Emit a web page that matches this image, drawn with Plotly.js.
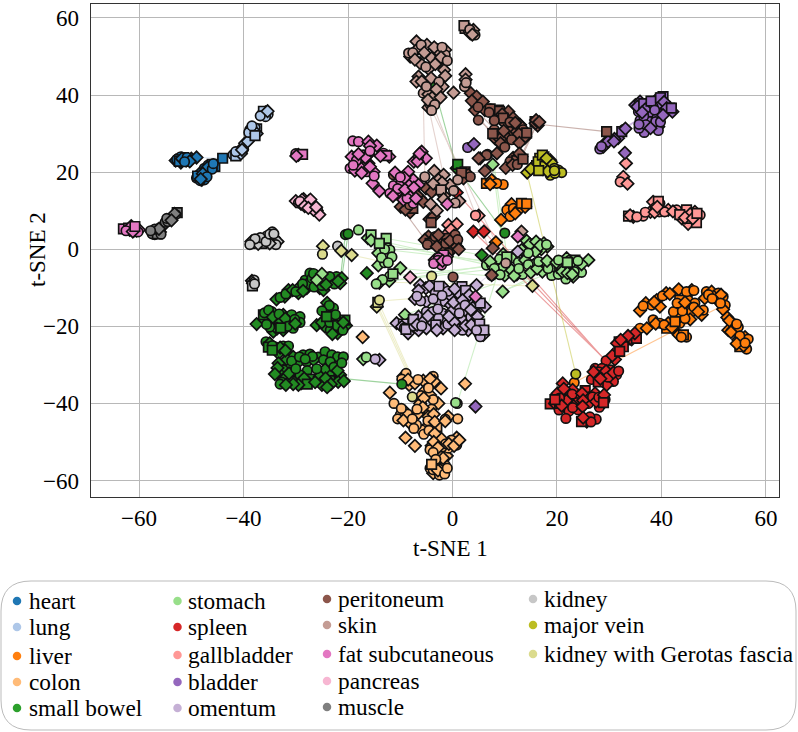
<!DOCTYPE html>
<html><head><meta charset="utf-8">
<script src="https://cdn.plot.ly/plotly-3.0.1.min.js"></script>
<style>html,body{margin:0;padding:0;background:#fff}#c{width:798px;height:732px}</style>
</head><body><div id="c"></div>
<script>
// [t-SNE 1, t-SNE 2, marker kind] ; kind: c circle, s square, none diamond
const heart=[[-53,23],[-52.5,23.5,'c'],[-52,22.5],[-51.5,23.8,'s'],[-51,23],[-50.5,23.2,'c'],[-50,23.5],[-49,23.8],[-52,24,'c'],[-51,22.8,'s'],[-47.5,21,'c'],[-46.8,21.8,'c'],[-46.5,21],[-45.5,21.5,'s'],[-47,20.5,'c'],[-46,22,'s'],[-49,18.5,'c'],[-48.5,19.5],[-48,18],[-47.5,19,'c'],[-48,18.8,'s'],[-47.5,18,'c'],[-48.3,17.8,'c'],[-44,23.6,'s'],[-52.8,23.3,'c'],[-52.3,22.8,'s'],[-51.8,23.5],[-50.8,23.8,'c'],[-50.3,22.8],[-51.3,22.7,'c'],[-46.9,21.2],[-46,20.8,'c'],[-45.8,22.2,'c'],[-48.8,19,'s'],[-47.8,19.6],[-47,18.8,'c'],[-48.2,18.2]];
const lung=[[-42,24.5,'c'],[-41,25,'c'],[-40.8,25.5],[-40,26,'c'],[-41.5,24.2,'s'],[-40.5,24.8],[-39.7,27.5],[-38.8,31,'c'],[-38,30.5],[-37.5,31.2,'s'],[-38.2,30],[-37.8,31.5,'c'],[-38.5,31],[-36.5,35,'c'],[-35.8,35.5],[-36,34.8,'c'],[-35.3,35,'c'],[-36.2,35.8,'s'],[-41.5,25.3,'c'],[-40.3,25.8],[-39.2,28],[-39,30.3,'c'],[-37.5,30],[-38.4,32,'c'],[-37.8,29.5,'s'],[-35.8,34.4,'c'],[-36.8,34.6,'c'],[-35.4,35.8]];
const liver=[[6.5,17.1,'s'],[7.8,17.5],[7.5,17.95],[9.7,16.8,'c'],[8.45,17.1,'c'],[7.2,16.9],[11.3,11.7],[10.4,10.2,'c'],[11.65,10.6,'c'],[12.9,10.6],[13.9,11],[11,8.5,'c'],[13.2,11.9,'s'],[12,9.3],[14.2,11.8,'s'],[9.3,7.6],[8.3,1.8],[23.3,-34.6,'c'],[35.9,-15.9],[37,-14],[38.1,-14.5,'c'],[39.1,-13.2],[39.7,-14.9],[40.9,-11.4],[43.3,-10.4],[45.8,-10.6],[35.9,-20.5,'c'],[37.2,-20.5],[38.4,-18.3,'c'],[39.7,-19.2,'c'],[41.3,-19.2],[41,-20.5,'s'],[43.5,-19.2,'c'],[43.5,-17.5],[42.3,-16.2,'c'],[44.2,-14.5],[45.1,-13.2,'c'],[43.5,-13.2,'s'],[46.4,-14,'c'],[45.8,-16.2,'c'],[45.5,-18.2],[47.7,-17],[48,-15.8,'c'],[43.3,-22.2],[44.8,-22.8,'c'],[44.2,-22.2,'s'],[48.6,-11,'c'],[49.6,-11],[48.3,-12.7],[50.9,-11.4,'c'],[51.8,-12.3,'c'],[50,-12.3],[52.2,-14.5,'c'],[51.8,-15.6],[50.7,-13.2],[52.6,-17.7],[53.7,-19.2,'c'],[52.8,-21],[53.7,-20.8],[54.7,-20.2,'c'],[56,-22.8],[54.7,-23.5],[56.6,-23.3,'c'],[56.3,-25.9,'c'],[55,-25.3,'s'],[55.3,-24],[36.5,-14.7,'c'],[38.6,-13.7],[40.2,-12.1,'c'],[41.6,-11.6],[44.8,-11,'c'],[46.2,-10.7,'c'],[38.9,-19.3],[40.5,-19.6,'c'],[42,-20.3],[42.6,-18.8,'s'],[44.5,-18,'c'],[44,-16,'c'],[43,-14,'c'],[46.2,-15,'c'],[44.5,-13.8],[47,-16.2],[43.8,-22.8,'c'],[49,-11.8,'c'],[51.4,-11.8],[49.7,-12.8,'c'],[51.3,-14,'c'],[53,-18.5],[54.4,-19.4,'c'],[53.3,-21.5],[55,-22.5,'c'],[55.7,-25],[54.4,-24.5],[56,-24.3,'c']];
const colon=[[-9.4,-33],[-8.9,-32.2,'c'],[-8.3,-35.2],[-7.2,-34.8],[-5.6,-34.1],[-3.7,-33,'c'],[-3.5,-34.3],[-2.2,-36.1],[2.4,-34.9],[-12,-37.2],[-11.2,-40,'c'],[-5.3,-36.7],[-4.3,-37.8],[-2.7,-40],[-6.2,-40],[-5.3,-42.1],[-4,-41.5,'c'],[-0.8,-43.4],[1,-44,'c'],[-1.4,-44.1,'c'],[-9.1,-42.1],[-10,-43,'c'],[-8.1,-45.2],[-9,-43.5,'s'],[-4.6,-45.6],[-5.9,-46.9,'c'],[-6.9,-45.6,'c'],[-4,-46.5,'c'],[-9,-48.9],[-7.2,-51],[-4,-51],[-2.1,-49.2],[0.8,-48.9],[-0.2,-49.5,'c'],[-2.7,-52.9],[-1.1,-53.6],[-0.8,-51.6,'c'],[-2,-51.3,'c'],[-4.3,-52,'c'],[0.8,-50.8,'c'],[-3.7,-58.1],[-1.8,-57.7,'c'],[-1.4,-56,'c'],[-2.7,-56.8],[-3.4,-56.4,'s'],[-4.3,-56.8,'c'],[-17.2,-22.8],[-6,-38,'c'],[-3,-46,'s'],[-6.5,-42.5],[-10.5,-44,'c'],[-5.5,-48,'c'],[-9.7,-33.7,'c'],[-8.5,-33.8],[-6.6,-33.8,'c'],[-4.3,-33.6],[-4.6,-36,'c'],[-3.7,-39,'c'],[-5.5,-38.6],[-5.7,-41],[-4.6,-43.4],[-3.6,-42.8],[-4.7,-44.5,'c'],[-6.8,-41.5,'c'],[-8.6,-42.8,'c'],[-9.4,-44.4],[-7.7,-44,'c'],[-9.8,-41.3,'c'],[-7.4,-46.5,'c'],[-3.4,-44.8],[-4.5,-47,'c'],[-3.4,-47.8],[-1.4,-44.6],[-3.6,-50],[-1.3,-50.5,'c'],[-2.8,-51.5],[-0.7,-50.5],[0.3,-51],[1.3,-49.5],[-3.7,-52.7,'c'],[-1.8,-54.2],[-3.2,-54.5,'c'],[-3.7,-57.2,'c'],[-2.5,-58.6,'c'],[-2.8,-57.4],[-1.5,-58.3,'c'],[-4,-55.8,'s'],[-1,-56.8,'c']];
const smallBowel=[[-33.7,-13],[-32.1,-12.3],[-31.4,-10.6],[-29.5,-11.4],[-29.2,-9.7],[-27.9,-10.1],[-28.2,-8,'c'],[-27.3,-6.2,'c'],[-27.6,-8.8],[-25.4,-10.1],[-24.7,-10.6],[-23.1,-8],[-22.2,-7.1,'c'],[-21.2,-7.5],[-23.5,-7.1,'c'],[-21.5,-8.8],[-37.5,-19.4],[-35.6,-17,'c'],[-34.6,-16.2,'c'],[-35.9,-18.4],[-34,-19.6],[-32.4,-17],[-33,-19],[-30.8,-17,'c'],[-29.2,-17.5,'c'],[-29.2,-19,'c'],[-30.5,-20.5,'c'],[-32.4,-21],[-34.3,-21.4],[-31.4,-18.8],[-35,-18.4,'c'],[-36.2,-17,'s'],[-24,-13.9],[-24.2,-15.6],[-22.8,-15.3,'c'],[-24.4,-18.2],[-26,-19.7],[-24.4,-20.1],[-22.8,-18.4],[-21.9,-18.8,'c'],[-20.4,-19.8],[-20.6,-18.4,'s'],[-22,-21.8],[-23.4,-21,'c'],[-21.5,-20.5],[-35.7,-24,'c'],[-35,-24.4],[-34,-25.3,'c'],[-32.4,-25.1,'c'],[-31.4,-25.1,'c'],[-35.25,-25.4,'s'],[-33.3,-27],[-28.6,-27.4,'c'],[-27.3,-27.2,'c'],[-25.7,-28,'c'],[-24.4,-26.6,'c'],[-23.1,-27.4,'c'],[-22,-27.9,'c'],[-20.9,-27.9,'c'],[-30.5,-27.9],[-31.7,-28.7],[-33.3,-29.6],[-29.5,-29.2,'c'],[-27.9,-29.2,'c'],[-26.6,-28.7],[-24.7,-28.7,'c'],[-23.4,-29.2,'c'],[-30.9,-30.5],[-32.4,-31.3,'c'],[-33,-32.6,'c'],[-27.8,-31.5,'c'],[-24.4,-31.2],[-29.2,-32.6,'c'],[-32.1,-33.5],[-30.8,-33.9],[-29,-34.8],[-27.3,-33.7,'s'],[-25.4,-33],[-25,-35.2],[-23.1,-32.6,'c'],[-21.5,-32.6],[-23.5,-34.1,'s'],[-21.9,-34.4],[-31,-32,'c'],[-32.7,-34.5,'c'],[-16.4,-6.2],[-20.5,3.8,'c'],[-20,4,'c'],[0.8,21],[1,22,'s'],[5.6,-1.5],[10,4.2,'c'],[-9.7,-35,'c'],[-3.7,43],[0.2,-18],[-33,-12.5,'c'],[-31.9,-11.6,'c'],[-30.6,-10.6],[-30,-11,'c'],[-28.7,-9,'c'],[-28.6,-10.8],[-26.9,-7.5,'c'],[-26.5,-9.8,'c'],[-25,-9.4,'c'],[-22.6,-9,'c'],[-21.9,-8.3],[-26.6,-6.3,'c'],[-24.2,-9.2],[-36,-16.5,'c'],[-35.2,-15.8,'c'],[-34.4,-17.6],[-33.2,-16.8,'c'],[-32,-18],[-30.2,-18.2,'c'],[-31.6,-20,'c'],[-33.6,-20.6],[-35,-20.2,'c'],[-30.1,-19.3],[-32.9,-20.4,'s'],[-35.6,-19.5,'c'],[-23.6,-14.6,'c'],[-25,-16,'c'],[-23,-17,'c'],[-25,-19],[-23.5,-19,'c'],[-22,-19.8,'s'],[-21,-21,'c'],[-23,-22],[-22.4,-17,'c'],[-24.1,-17.5,'s'],[-20.9,-19],[-34.5,-25,'c'],[-33,-25.5],[-34.5,-26.2,'s'],[-32,-26.3],[-30.8,-29,'c'],[-33.5,-30.8],[-31.3,-32.2],[-34,-32.4],[-33,-35,'c'],[-30,-31,'c'],[-28.4,-33.5],[-27.8,-35,'s'],[-29.5,-35.2],[-26.8,-27.8,'c'],[-26,-31,'c'],[-26.3,-34.5],[-24.3,-33.5],[-22.7,-30.6,'c'],[-22,-31.5],[-23.3,-35],[-20.8,-34.2],[-21.2,-29.5,'c'],[-29.3,-27.9,'c'],[-28.2,-28.5,'c'],[-24,-35.8],[-30.5,-35],[-31.9,-35.2]];
const stomach=[[-18,5,'c'],[-16.2,2.9],[-15.6,3.7,'s'],[-12.9,1.1],[-12.7,2.8,'s'],[-14.2,-1],[-12,-0.2,'c'],[-11.6,-2,'c'],[-14.2,-4.2],[-13,-3.5,'c'],[-10,-4.9],[-14,-8.7],[-12.1,-8.2],[-12,-7,'c'],[-9.1,-17],[-17.1,-28.5],[-16.5,-28,'c'],[0.9,-40,'c'],[0.6,-39.8,'c'],[-25,-6.4],[-26,-8],[7.7,22],[14.2,2.2],[15.2,0.7],[16.4,0.25],[17.5,1.55],[18.15,0.7],[17,0],[13.9,-0.6],[9.7,-1.3],[11.3,-2.3,'c'],[8.8,-3.2],[6.5,-4.1,'c'],[7.5,-4.1,'c'],[12.6,-3.4,'c'],[13.9,-2.8],[15.5,-4.1],[8.8,-5.8,'c'],[10,-6.8],[11.3,-5.4],[12.3,-6.5],[13.4,-6.5,'c'],[17.7,-3.9],[17.2,-5.8],[19.3,-5.4],[19,-6.8,'c'],[20.25,-6.5,'c'],[21.85,-2.3],[21.2,-4.1,'c'],[22.5,-2.8,'c'],[22.4,-4.9,'c'],[21.7,-7.7,'c'],[23.1,-7.1],[23.8,-4.5],[24.7,-6,'c'],[26,-2.8],[23.45,-2.8,'s'],[24.7,-3.9],[20.9,-4.9,'s'],[18.7,-4.5,'s'],[9.6,-11],[13.2,-0.2],[-15.6,2.3],[-13,0,'c'],[-14,1.5,'s'],[-13.6,-2.2,'c'],[-12.3,-3.5,'c'],[-13.4,-7.9,'c'],[-11.4,-6.4,'s'],[-14.6,-9,'c'],[14.8,1.3],[16,2],[15.9,-0.6],[16.8,1],[18,1.2,'c'],[14.5,-1,'c'],[9,-2.6,'c'],[10.4,-2,'s'],[7.2,-3.2],[9.6,-4.6],[8,-5,'c'],[9.1,-6.6,'c'],[11.8,-6.9],[12.7,-5,'c'],[14.5,-4,'c'],[15,-6],[16.2,-5],[16.5,-3.2,'c'],[18.3,-5,'c'],[18.1,-3],[19.9,-3.4],[20.3,-2.8,'c'],[21,-5.8],[22,-6.2],[22.7,-3.6],[23.3,-5.8,'c'],[24,-3,'c'],[22,-3.4,'s'],[22.9,-6.5]];
const spleen=[[31.9,-24,'s'],[33.3,-23.5,'s'],[34.3,-23.4],[35.2,-23.1,'s'],[32.7,-25.3,'s'],[31.4,-26.6,'c'],[31.1,-28.6],[29.4,-28.9,'c'],[31.5,-24.4],[34.9,-21.8],[27.3,-30.9,'c'],[28.6,-30.9,'c'],[30.3,-31.3,'c'],[27.3,-32.9],[26.6,-33.8,'c'],[28.9,-32.9],[31.4,-32.6,'c'],[30.8,-34.3,'c'],[29.5,-35.2],[27.9,-34.4,'s'],[21.1,-34.8],[20.1,-37.4],[18.7,-40.1,'s'],[19.6,-40],[20.4,-41.7,'c'],[23,-36.5],[22.2,-38.2],[21.2,-38.7],[25.4,-36.7,'s'],[27.3,-37.4],[24.1,-38.2,'c'],[26,-38.7],[22.2,-40],[23.8,-39.8,'c'],[26,-40,'c'],[29.2,-39,'c'],[28.5,-40.4],[28.1,-41,'c'],[20.5,-40,'s'],[22.3,-42,'c'],[24.1,-41.7,'c'],[21.7,-43.9,'c'],[25.4,-44.3,'c'],[25.7,-44.7],[27.5,-44.1,'c'],[26.3,-43.5,'c'],[24.7,-44.7,'s'],[0.8,14.7],[4,4.6],[6,4.6],[21.3,-36.2],[22.9,-37.6,'c'],[21.8,-39.3],[20.5,-38.6,'c'],[24.8,-37.4],[23.2,-40.7],[25,-39.2],[26.8,-38.3,'c'],[20.9,-40.6],[19.6,-39,'s'],[23,-41.1,'c'],[24.9,-40.8],[27.5,-39.5],[28,-38.4,'c'],[29,-37.8],[28.9,-39.8,'s'],[26.5,-44.8,'c'],[25,-43.7],[28,-31.8,'c'],[29.4,-31.6],[29.8,-33.2,'c'],[28.3,-33.6],[27,-31.8],[30.8,-32],[31.8,-31.6,'c'],[33.6,-22.5],[32.2,-23.5],[30.6,-27.6],[32,-26.5,'s']];
const gallbladder=[[5,8.7],[4.4,8.8,'c'],[-0.8,6.3],[0.8,6.5],[-1.1,3.9],[33.2,22.3],[32.7,18.8],[32.1,17.5,'c'],[33.5,17],[34.6,8.4],[33.7,8.6,'s'],[36.5,8.6,'c'],[37.9,9.7],[38.4,12.3],[39.7,11.9,'c'],[39.6,9.7,'c'],[41.3,10.2],[42.9,10.2,'c'],[43.9,8],[44.8,10.2,'s'],[46.4,9.7],[47.4,8.9,'c'],[45.1,6.6],[46.7,6.9,'s'],[45.1,8,'s'],[39.4,12.4,'s'],[34,8.8],[35.3,8.4,'c'],[36.9,9.6,'c'],[38.8,10.8,'c'],[38.7,9.6],[40.6,9.7,'c'],[42.2,9.8],[43.5,9,'s'],[45.5,9.1],[44.5,8.2],[46,8],[46.8,9.3,'s'],[39.2,11],[-0.3,5.1],[0.3,3.5]];
const bladder=[[2.9,26.4,'c'],[4.1,27.3],[33,25],[35,37.4],[35.9,38.3],[37.5,37.4],[39.1,38.9],[40.3,39.6,'s'],[41.6,36.6,'s'],[42.1,35.7],[35.6,35.7,'c'],[37.8,34.4],[35.9,33.4,'c'],[39.4,35.3,'c'],[40.3,36.2,'s'],[39.4,31.8],[39.4,30.8,'c'],[36.7,30.3,'c'],[35.7,31.4,'c'],[39.1,34,'c'],[41,37.4,'c'],[39.7,37.9],[36.2,36.6,'s'],[38.4,37,'c'],[37.2,33.1,'s'],[32.8,31.1,'c'],[31.7,28.8],[30.5,28.2,'c'],[29.2,27.5],[28.2,26,'c'],[28.9,26.6],[32.4,30.5,'s'],[4.4,-40.8],[35.4,37],[36.6,37.8,'s'],[36.9,36.3],[38,38.4,'s'],[38.7,36.1,'c'],[39.8,39.3,'s'],[40.5,38.2],[41,36.6],[41.9,36.6,'s'],[36.6,34.5,'c'],[36.3,35.5],[38.9,33.1,'c'],[37,32.3,'c'],[37.9,31.4],[39.8,33,'c'],[40.3,34.8],[35.7,32.4,'c'],[31,28.6],[29.8,28],[28.5,26.7,'c'],[33.1,31.3],[30.9,28]];
const omentum=[[-7.2,-12.9],[-6.2,-9.3],[-5.1,-10.1],[-3.3,-11.3,'c'],[-1.6,-10.1],[1.8,-9.7,'s'],[4.6,-9.3],[-5,-13.6],[-2.8,-13.3,'c'],[-1.4,-13.6,'c'],[-0.2,-12.3],[1.1,-11.4],[3,-13.6],[4.4,-14.5],[6.2,-14.9],[-0.3,-14.5],[1.1,-14.9],[-10.7,-19.2],[-8.1,-19.6],[-8.5,-21.8],[-6.5,-21],[-6.5,-17.5],[-5.6,-18.8],[-5,-16.2,'c'],[-3.8,-16.2,'c'],[-4,-18.3,'s'],[-5,-20.5],[-1.9,-16.6,'c'],[-1.6,-18.8],[-1.8,-20.5],[-0.2,-16.2],[2.1,-18.3],[0.8,-20.5,'c'],[3,-21],[2.4,-15.8],[4.3,-16.2],[4.2,-20.1],[5.9,-22.2],[5,-21.8,'c'],[5.3,-22.7,'c'],[4,-18.3],[-2.7,-17.9,'c'],[-9.4,-19.4,'s'],[1.9,-21,'c'],[-14,-28.7],[-14.8,-28.5,'c'],[12.5,-0.6],[-6.5,-10.7],[-4.4,-9.5],[-2.6,-9.6,'s'],[-0.9,-10.9,'c'],[0.4,-10.3],[2.5,-10.7,'s'],[3.2,-11.9],[-6.1,-13.4,'c'],[-3.7,-12.9,'c'],[-2,-12,'c'],[0.2,-13.8],[1.9,-13.2],[2.4,-14.5,'c'],[3.9,-15.2],[5.3,-14,'s'],[-9.7,-20.1],[-9.2,-20.4,'c'],[-8.9,-20.8,'s'],[-7.4,-19.9,'c'],[-7.5,-18.2,'s'],[-6.8,-19.6],[-5.9,-19.9,'c'],[-4.7,-17.3],[-3.2,-19.6,'s'],[-3,-21],[-2.8,-15.5,'c'],[-0.9,-19.5,'c'],[0.3,-18.9],[0.4,-21],[-0.7,-17.4],[1.3,-16.6,'c'],[2.5,-19.8],[3.5,-17.6,'c'],[3.6,-19.6],[4.8,-17.5],[5.2,-19.4,'s'],[3.5,-15.7],[6,-21,'s'],[4.6,-21,'c'],[-6.8,-12.2,'c']];
const peritoneum=[[-11.3,19.3,'c'],[-5.1,15.8],[-3.3,15.8],[-2.1,15.4,'c'],[-6.2,13.2],[-9.9,11],[-8.1,9.6],[-7.6,10.6,'s'],[2.4,20.1,'s'],[3,19.3],[2.1,18.4],[5.3,23.6],[6.7,24.6,'c'],[6.2,20.3],[-4.4,7.8],[-3.6,8.5],[-4.6,3.3],[-3.7,2.4,'c'],[-5.3,2.4],[-2.7,2],[-1.1,2.8,'s'],[0.5,3.7,'c'],[0.5,1.5],[-0.2,-0.2],[-2.1,0.7,'c'],[-4.3,1.5,'s'],[0.8,0.7],[-3.3,3.3,'c'],[-2.7,3.7],[7.7,0.25],[7.5,-6.8,'c'],[0.1,-7.2,'c'],[3.5,40.5],[4.6,39.6],[4.3,36.1],[5.3,37.4],[4.95,33.5,'c'],[6.2,36.1],[7.2,36.4,'c'],[8.8,36.1,'s'],[10.7,35.7],[8.5,34],[10,32.7],[12.9,32.3],[11.6,34],[15.8,33.1,'s'],[16.3,32.1],[15.9,32.7],[8.5,29.7],[11,30.5],[8.5,28.4],[13.8,28.8],[10,28.8,'s'],[12.3,30.5],[7.2,36.4,'s'],[9,35.8,'s'],[12.9,32.2],[13.9,29.2],[8.1,28.8],[9.1,28.6],[8.5,24.9],[6.5,24.4,'c'],[5,23.6],[11.6,23.7],[11,22.7,'c'],[10.2,21.1],[13.2,24],[12.3,23,'s'],[29.5,30.5,'s'],[7.5,-6.7],[7,35.5,'c'],[9.5,35],[9.7,34,'s'],[11,33,'c'],[12,32.8],[13.5,31,'c'],[12.7,29.9],[8,31,'c'],[7.7,30,'s'],[9.8,30.7],[9.2,27.5],[11.3,28.4,'c'],[12.8,27.6],[14.2,30.2,'s'],[10,26.5,'c'],[12.8,24.8],[11.5,21.9],[12.4,22,'c'],[13.5,23.4,'s'],[3.7,38.5],[5.8,38.3],[4.9,36.9,'c'],[8,33.4,'c'],[16,33.5],[16.6,33],[-4,14.8],[-6.8,14],[-5.6,12.3],[-9,10.3],[-8.2,11.5,'c'],[-4.1,6.9,'s'],[-4.8,1.2,'c'],[-3,0.7],[-1.3,1.5,'c'],[-0.5,2.2],[1,2.5,'c'],[1.2,0],[-0.8,-1,'c'],[3.4,18.8,'c'],[1.7,19.8,'s']];
const skin=[[2.4,57.3,'s'],[3,56.9,'c'],[4,56.9],[4.3,55.6,'c'],[3.4,56],[2.2,58,'s'],[-6.9,53.9],[-4.9,53],[-6.5,52.2],[-8.1,50],[-1.4,51.7],[-3,51.7],[-4,49.6],[-6.2,48.3],[-2.7,48.7],[-1.4,50.4,'c'],[-8.4,50.9,'c'],[-4.6,46.8],[-1.6,46.5],[-1.4,45],[-6.5,44.8],[-6.9,43.5],[-4.1,44.4],[-1.9,42.2],[-5.6,40.5,'c'],[-4.6,40.2],[-3.9,39.3],[-2.3,39.4],[0.2,40.6],[-4.6,36.8],[-4.3,37.6,'c'],[2.5,45.4],[2.5,44],[2.3,42.2,'c'],[-5.3,18.8,'c'],[-3.5,20.3],[-1.7,19.3],[-2.7,18],[-0.5,16.7],[1,18,'c'],[-1.6,13.9],[1.3,12.5],[-4.2,11.7],[-3,10],[13.2,4.6],[10.2,-3.6,'c'],[-6,53,'c'],[-5.4,51],[-7.6,51,'c'],[-7.2,49.2],[-3.5,52.4],[-2,52.4,'c'],[-2.2,49.8],[-1,48.9,'c'],[-3.3,48],[-5.1,47.3,'c'],[-5.9,43.5],[-5,42.2,'c'],[-2.6,43.4,'c'],[-3.1,41.5],[-4.7,38.7],[-3.4,37.5,'c'],[-4,36,'c'],[2.6,43.2,'c'],[3.3,57,'c'],[3.8,55.7],[-2,17.3],[-3.7,17],[0.2,15.2,'c'],[-2.2,15.4,'s'],[0.5,12,'c'],[-1.7,13]];
const fat=[[-63,5.3,'s'],[-61.8,5],[-61,5.5],[-60.5,4.8],[-60,5],[-61,4.5,'c'],[-62,5.5,'s'],[-60.2,4.5,'c'],[-61.5,6],[-30,24.8,'c'],[-29.5,24.5],[-28.7,24.6,'s'],[-19.1,28.1,'c'],[-18,27.9,'c'],[-16.1,27.9],[-14.5,26.9],[-19.3,24],[-16.1,24.6],[-17.1,24.5,'c'],[-13.2,24.9,'c'],[-12.1,24],[-12.6,24.3,'s'],[-19.6,21,'c'],[-18.7,20.4],[-17.4,21],[-16.1,22.3],[-15.1,20.1],[-15.3,17.1],[-14,15.1],[-16.4,20.1,'c'],[-5.9,25.3],[-7.4,22.7],[-5.1,23.6],[-6.5,24,'c'],[-11,19.9],[-8.5,20.1],[-11.3,16.5,'c'],[-9.7,17.5],[-7.5,18],[-6.5,16.7],[-12,14.5,'c'],[-10.8,14.5],[-8.5,14.1],[-9.4,12.8],[-7.5,11.9,'c'],[-1,11.7],[-3.4,-2.8],[-2.1,-4.1,'c'],[-1.1,-1.9],[-1.7,-1.5,'s'],[-2.7,-2.2,'c'],[12.5,3.3],[4.4,-12.3],[-15.8,26.8],[-16.7,23.8],[-18.4,23,'c'],[-18,24.7],[-15.8,25.5,'c'],[-13.8,24.2],[-19,21.8,'c'],[-15.8,21.4],[-15,19,'c'],[-17.4,19.8],[-6.7,22.8],[-6.3,24.8],[-9.2,18.5],[-10,18.7,'c'],[-8.3,16.5],[-10.5,15.7,'c'],[-8.7,13.2,'c'],[-9.1,15.5],[-7.4,16],[-7,13.2],[-11.4,13.8],[-2.8,-2.9,'c'],[-3.6,-3.7,'c'],[-1.9,-3],[-1,-2.9,'c'],[-62.5,4.8,'c'],[-61.2,4.6],[-60.8,5.9,'s'],[-29.9,24.2]];
const pancreas=[[-30,12.5],[-29.5,12,'c'],[-29,11.8],[-28.5,13],[-28,12],[-27.5,12.5],[-27,11.5],[-26.5,11],[-26,10],[-25.8,10,'c'],[-25.5,9],[-28.8,12.8],[-27.8,11,'c'],[-8.1,-7.3],[-29.2,12.4,'c'],[-28.3,11.2],[-27.2,12.9],[-26.6,10.2],[-27.6,10.7],[-26.1,10.9]];
const muscle=[[-57.5,4.5],[-56.5,5],[-57,3.8,'c'],[-56,4.5],[-55.5,6],[-55,7,'c'],[-54,8,'c'],[-53.5,8.5],[-52.7,9.5,'s'],[-53,9,'c'],[-57.5,4,'c'],[-56.5,4,'s'],[-57,5.2,'c'],[-55.8,3.9,'c'],[-56.2,5.3],[-57.8,4.8,'c'],[-54.5,7.2,'c'],[-54.7,8,'c'],[-53.2,9.2],[-53.8,7.5]];
const kidney=[[-38.5,2],[-37.5,2.5,'c'],[-37,2],[-36,2.5],[-35.5,3.5,'c'],[-35,3],[-34.5,4.5,'c'],[-34.2,3],[-33.5,2],[-33.8,1.2,'c'],[-36.5,1.5,'s'],[-38,1.5,'c'],[-35,1.5],[-38.4,-8.2],[-38,-8,'c'],[-38.2,-8.8],[-38.3,-9.5,'s'],[-22,0.8,'c'],[-37.2,1.4],[-36.8,3,'c'],[-35.7,2,'c'],[-35,3.9,'c'],[-34.2,4,'c'],[-37.8,2.7,'c'],[-38.8,1.2,'c'],[-37.9,-9,'c']];
const majorVein=[[14.3,19.9],[15.5,21.4],[17.5,24,'s'],[16.1,21.7,'s'],[17.3,20.8],[18.7,23.1],[19,21.4,'c'],[18.7,19.2,'c'],[20.3,20.5,'c'],[20.9,19.9,'c'],[18.3,22,'s'],[17.7,22.7],[19.6,19.7,'c'],[16.7,23.6,'s'],[23.6,-32.4,'c'],[16.4,22.7,'s'],[15,20.8],[17.7,21.5,'s'],[18.9,22.5],[19.5,21,'c'],[18.2,20.2],[16.5,20.4,'s'],[19.5,20.4,'c'],[17.2,24.4,'s'],[18,23.6]];
const gerotas=[[-24.8,0.8],[-24.9,-1.3,'c'],[-21.3,-0.4],[-19.3,-1.5],[-14.5,-14.9],[-14.3,-13.8,'s'],[-14,-13.2,'c'],[-7.7,-38.3,'c'],[-4,-7,'c'],[15.3,-9.5]];

// line segments between linked points: x1,y1,x2,y2
const lungLinks=[[-49,23.8,-44,23.6],[-44,23.6,-42,24.5]];
const liverLinks=[[23.3,-34.6,50.9,-15.2]];
const smallBowelLinks=[[-21.5,-8,-20.5,4],[-21.2,-7.5,-20,4],[-21.4,-33.5,-9.7,-35],[-3.7,43,0.8,21],[0.8,21,10,4.2]];
const stomachLinks=[[-12.7,2.8,5.6,-1.5],[-12.9,1.1,7,-3.4],[-12.7,1.8,6.5,-4],[-12,-0.2,7.5,-3.2],[-14,-8.7,8,-4],[-12.1,-8.2,8.8,-5],[-12,-7,9,-4.2],[-10,-5,8,-7],[0.9,-40,8.5,-7],[-9.1,-17,8,-9],[7.7,22,10,-3],[8,21.5,10.5,-2.5],[9.6,-11,17,-6],[9.6,-10.8,19,-6]];
const spleenLinks=[[4,4.6,29.4,-28.9],[6,4.6,29.2,-28.7],[0.8,14.7,29,-28.5]];
const bladderLinks=[[32.8,31.5,36,34],[33,31,36.5,35],[37.5,31,41,35]];
const omentumLinks=[[4.6,-9.3,12.5,-0.6]];
const peritoneumLinks=[[16,32.5,29.5,30.5],[5,33.5,9,29],[5.5,33.5,8.5,28],[6,34,9.5,29],[13,23,16,32],[12.5,22.5,15.8,31.5],[11.6,22.5,15.5,32],[-9.9,11,-5,2]];
const skinLinks=[[-5.6,40,-5.3,19],[-4.6,37,-1.7,19],[-4.3,37,10.2,-3.6],[-3.9,38,7,0]];
const majorVeinLinks=[[14.3,19.5,23.6,-32.4]];
const gerotasLinks=[[-14.5,-14.9,-8.3,-33],[-14.2,-14.9,-8,-33],[-13.9,-14.5,-7.8,-33],[-14.3,-13.5,-5,-12.5],[-19.3,-1.5,-11,-4],[15.3,-9.5,-14,-8.5]];

const seriesNames=['heart','lung','liver','colon','small bowel','stomach','spleen','gallbladder','bladder','omentum','peritoneum','skin','fat subcutaneous','pancreas','muscle','kidney','major vein','kidney with Gerotas fascia'];
const seriesColors=['#1f77b4','#aec7e8','#ff7f0e','#ffbb78','#2ca02c','#98df8a','#d62728','#ff9896','#9467bd','#c5b0d5','#8c564b','#c49c94','#e377c2','#f7b6d2','#7f7f7f','#c7c7c7','#bcbd22','#dbdb8d'];
const seriesPoints=[heart,lung,liver,colon,smallBowel,stomach,spleen,gallbladder,bladder,omentum,peritoneum,skin,fat,pancreas,muscle,kidney,majorVein,gerotas];
const seriesLinks=[[],lungLinks,liverLinks,[],smallBowelLinks,stomachLinks,spleenLinks,[],bladderLinks,omentumLinks,peritoneumLinks,skinLinks,[],[],[],[],majorVeinLinks,gerotasLinks];
const legendRowYs=[[601,627,656,682,708],[601,627,655,682,708],[599,625,654,681,707],[599,625,654]];
const legendDotXs=[17,177.5,327,533];
const legendTextXs=[28.5,188.3,338.4,543.5];

const FONT='"Liberation Serif","Times New Roman",serif';
const KIND={c:'circle',s:'square'};
const traces=[];
seriesLinks.forEach((links,i)=>{
  if(!links.length) return;
  const x=[],y=[];
  links.forEach(l=>{x.push(l[0],l[2],null);y.push(l[1],l[3],null);});
  traces.push({x,y,mode:'lines',type:'scatter',hoverinfo:'skip',showlegend:false,opacity:0.45,line:{color:seriesColors[i],width:1.1}});
});
seriesPoints.forEach((pts,i)=>{
  traces.push({x:pts.map(p=>p[0]),y:pts.map(p=>p[1]),mode:'markers',type:'scatter',name:seriesNames[i],showlegend:false,
    marker:{color:seriesNames[i]==='small bowel'?'#228b22':seriesColors[i],size:9.5,symbol:pts.map(p=>KIND[p[2]]||'diamond'),line:{color:'#111',width:1.7}}});
});
const tick={family:FONT,size:23,color:'#000'};
const annotations=[
  {xref:'paper',yref:'paper',x:450/798,y:1-548/732,text:'t-SNE 1',showarrow:false,xanchor:'center',yanchor:'middle',font:tick},
  {xref:'paper',yref:'paper',x:37/798,y:1-250/732,text:'t-SNE 2',showarrow:false,xanchor:'center',yanchor:'middle',textangle:-90,font:tick}
];
let di=0;const dotX=[],dotY=[],dotC=[];
legendRowYs.forEach((col,c)=>col.forEach(yy=>{
  dotX.push(legendDotXs[c]);dotY.push(yy);dotC.push(seriesColors[di]);
  annotations.push({xref:'x2',yref:'y2',x:legendTextXs[c],y:yy,text:seriesNames[di],showarrow:false,xanchor:'left',yanchor:'middle',xshift:-2,font:{family:FONT,size:23.3,color:'#000'}});
  di++;
}));
traces.push({x:dotX,y:dotY,xaxis:'x2',yaxis:'y2',mode:'markers',type:'scatter',hoverinfo:'skip',showlegend:false,marker:{color:dotC,size:8.5}});
const layout={width:798,height:732,margin:{l:0,r:0,t:0,b:0},paper_bgcolor:'#fff',plot_bgcolor:'#fff',showlegend:false,
  xaxis:{domain:[90.5/798,779/798],range:[-69.3,62.5],tickvals:[-60,-40,-20,0,20,40,60],showgrid:true,gridcolor:'#b8b8b8',gridwidth:1,zeroline:false,showline:true,mirror:true,linecolor:'#333',linewidth:1,ticks:'outside',ticklen:1,tickcolor:'rgba(0,0,0,0)',tickfont:tick,automargin:false},
  yaxis:{domain:[1-496.7/732,1-3.7/732],range:[-64.2,63.7],tickvals:[-60,-40,-20,0,20,40,60],showgrid:true,gridcolor:'#b8b8b8',gridwidth:1,zeroline:false,showline:true,mirror:true,linecolor:'#333',linewidth:1,ticks:'outside',ticklen:6,tickcolor:'rgba(0,0,0,0)',tickfont:tick,automargin:false},
  xaxis2:{domain:[0,1],range:[0,798],anchor:'y2',visible:false,fixedrange:true},
  yaxis2:{domain:[0,157/732],range:[732,575],anchor:'x2',visible:false,fixedrange:true},
  annotations,
  shapes:[{type:'path',xref:'x2',yref:'y2',path:'M 31 581 L 766 581 Q 796 581 796 611 L 796 700 Q 796 730 766 730 L 31 730 Q 1 730 1 700 L 1 611 Q 1 581 31 581 Z',line:{color:'#bbb',width:1},fillcolor:'rgba(0,0,0,0)'}]
};
Plotly.newPlot('c',traces,layout,{displayModeBar:false,responsive:false});
</script></body></html>
